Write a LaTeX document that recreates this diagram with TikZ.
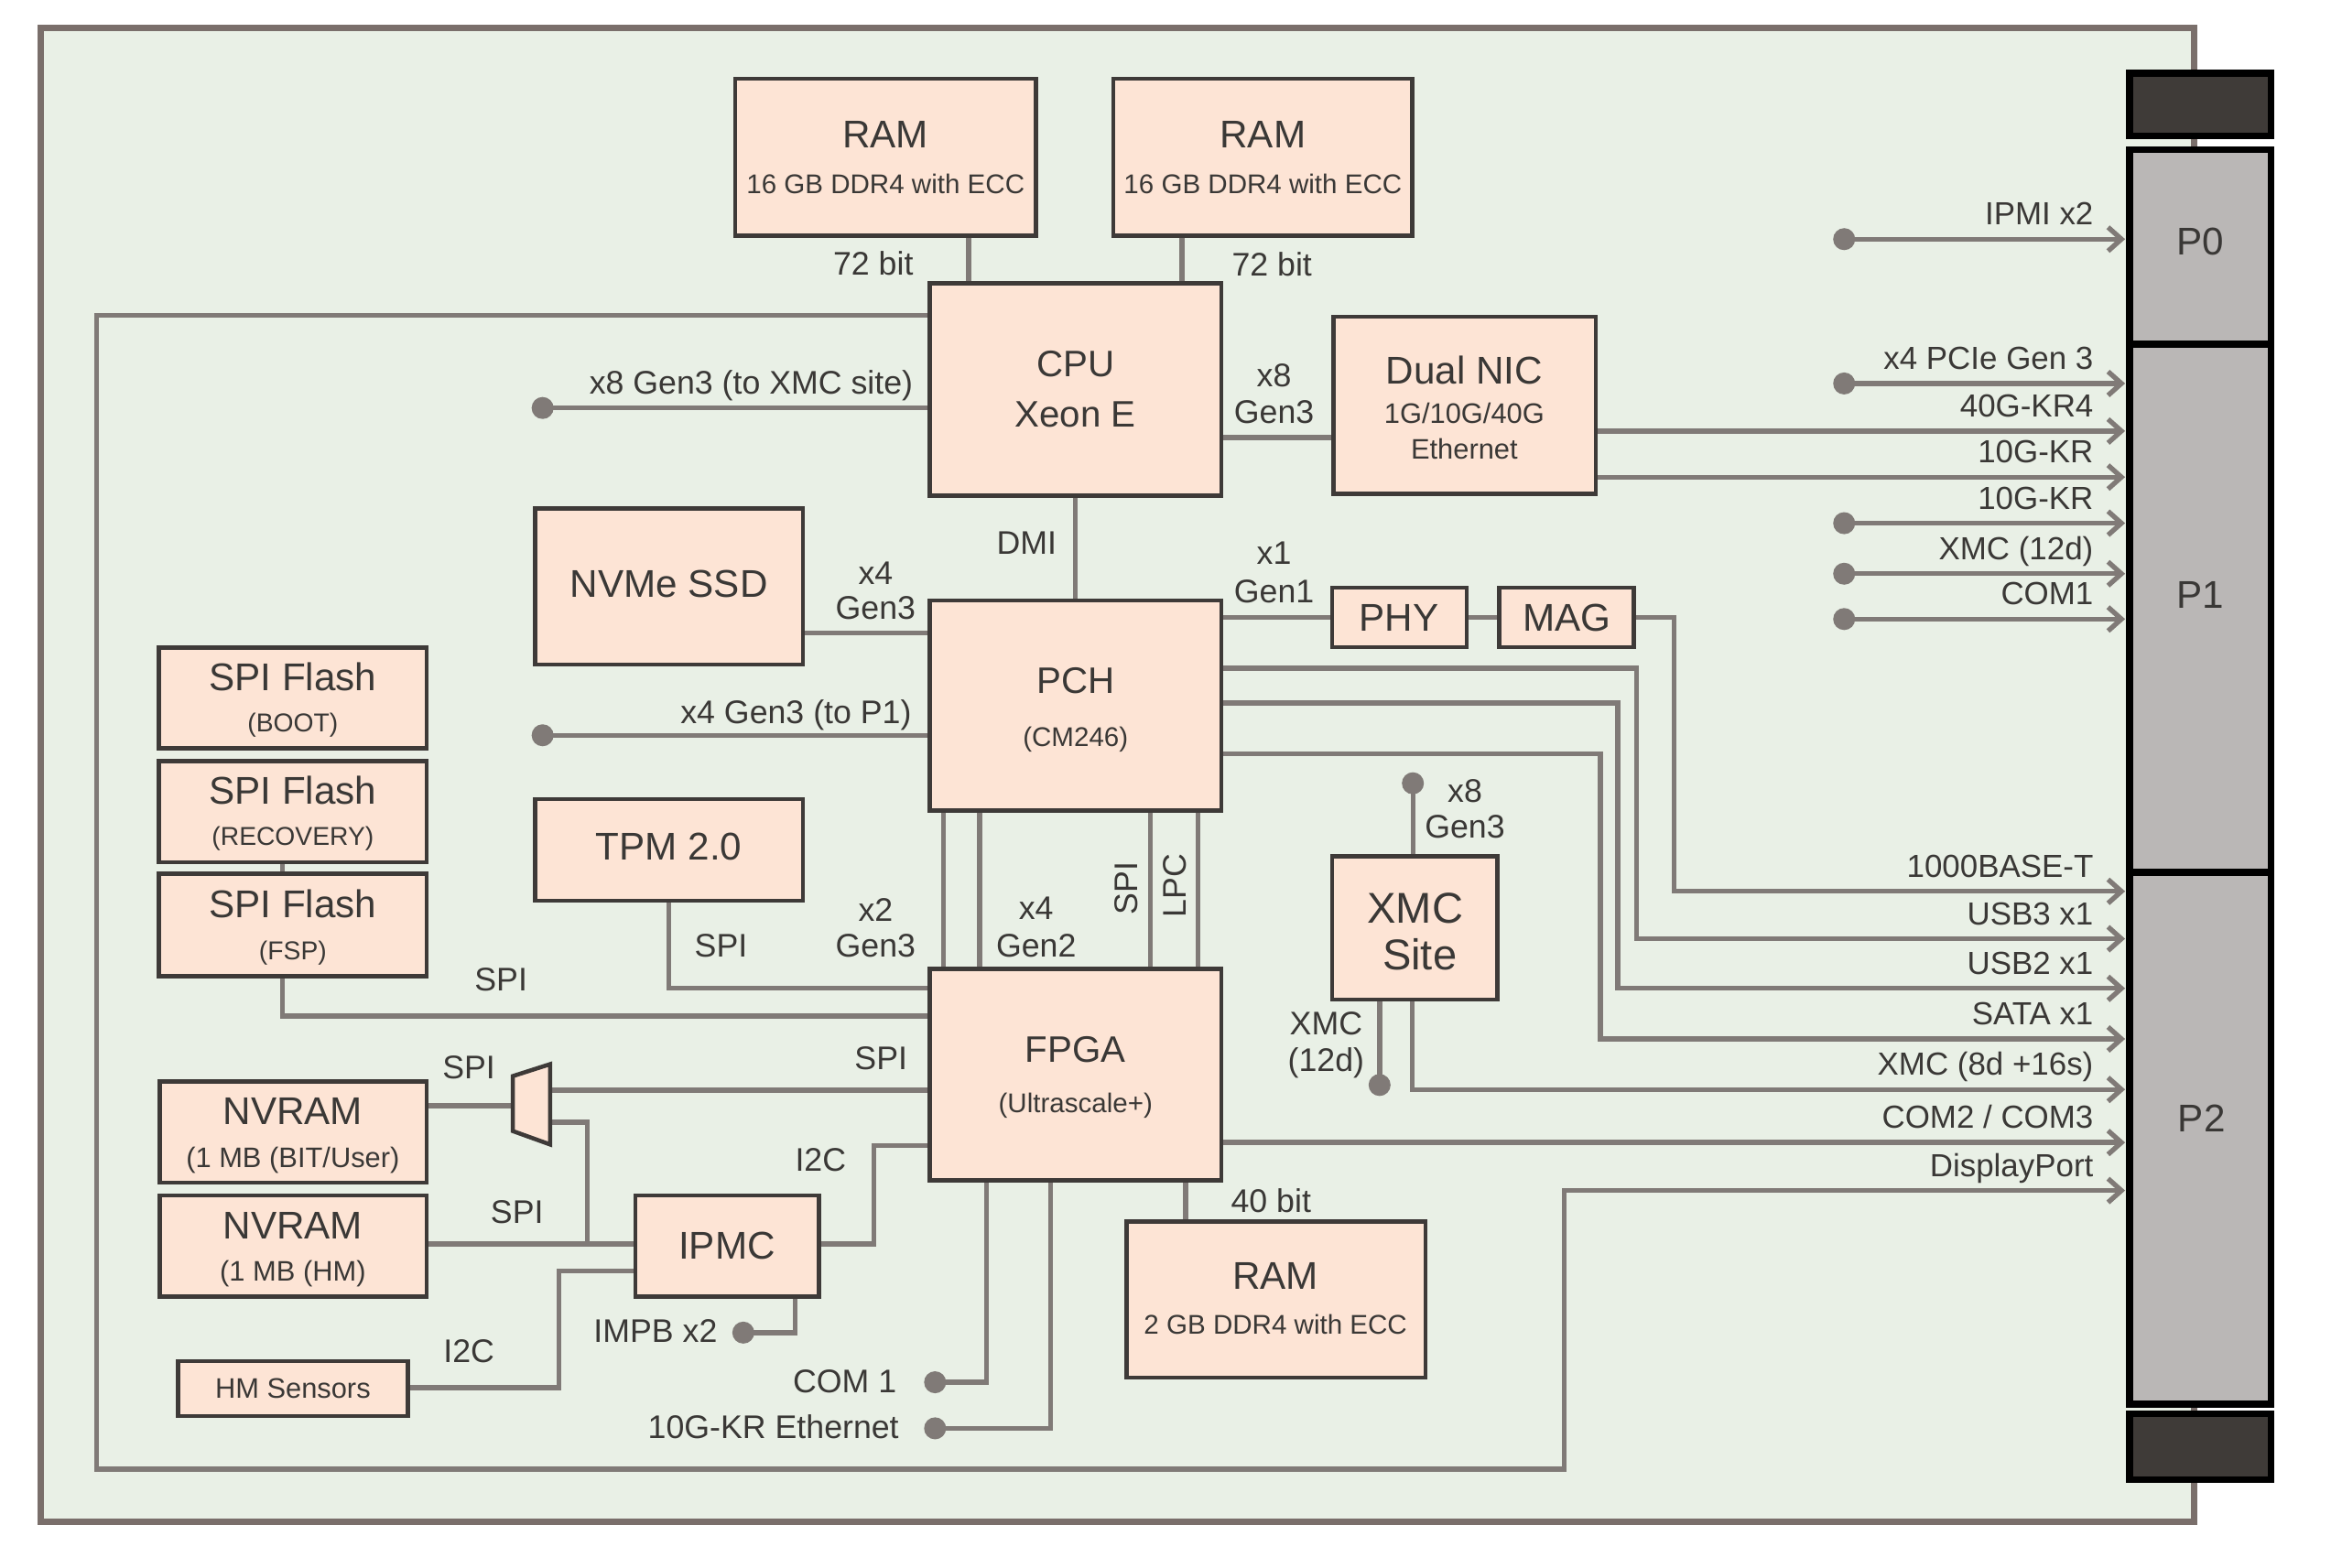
\documentclass[tikz,border=0pt]{standalone}
\usepackage{fontspec}
\setmainfont{Liberation Sans}
\usetikzlibrary{arrows.meta,calc}
\definecolor{boardbg}{HTML}{E9F0E6}
\definecolor{boardln}{HTML}{7A6F6B}
\definecolor{boxfill}{HTML}{FDE4D5}
\definecolor{boxdraw}{HTML}{3E3A38}
\definecolor{linec}{HTML}{807A77}
\definecolor{txt}{HTML}{3A3836}
\definecolor{pfill}{HTML}{BAB7B6}
\definecolor{dfill}{HTML}{3F3B38}
\pgfdeclarelayer{board}
\pgfdeclarelayer{wires}
\pgfsetlayers{board,wires,main}
\newcommand\mybox[6][blk]{%
  \pgfmathsetmacro\myw{(#5-#3)*0.5}%
  \pgfmathsetmacro\myh{(#6-#4)*0.5}%
  \node[#1,minimum width=\myw pt,minimum height=\myh pt] (#2) at ({(#3+#5)/2},{(#4+#6)/2}) {};}
\begin{document}
\begin{tikzpicture}[x=0.5pt,y=-0.5pt,
  blk/.style={rectangle,draw=boxdraw,fill=boxfill,line width=1.4pt,inner sep=0pt,outer sep=0pt},
  pbox/.style={rectangle,draw=black,fill=pfill,line width=2.25pt,inner sep=0pt,outer sep=0pt},
  dbox/.style={rectangle,draw=black,fill=dfill,line width=2.25pt,inner sep=0pt,outer sep=0pt},
  dot/.style={circle,fill=linec,inner sep=0pt,minimum size=7.4pt},
  conn/.style={draw=linec,line width=1.65pt,line join=miter},
  arr/.style={conn,-{Straight Barb[length=4.5pt,width=8pt]},shorten >=1.5pt},
  tx/.style={text=txt,inner sep=0pt,anchor=base},
  ttl/.style={tx,font=\fontsize{13pt}{15pt}\selectfont},
  ttb/.style={tx,font=\fontsize{12.4pt}{15pt}\selectfont},
  ttx/.style={tx,font=\fontsize{14.5pt}{17pt}\selectfont},
  sub/.style={tx,font=\fontsize{9.1pt}{11pt}\selectfont},
  subn/.style={tx,font=\fontsize{9.5pt}{11pt}\selectfont},
  subc/.style={tx,font=\fontsize{8.7pt}{11pt}\selectfont},
  lbl/.style={tx,font=\fontsize{11pt}{13pt}\selectfont},
  lble/.style={lbl,anchor=base east},
  rl/.style={tx,anchor=base east,font=\fontsize{10.75pt}{13pt}\selectfont},
  muxs/.style={draw=boxdraw,fill=boxfill,line width=1.4pt,line join=miter}]
\useasboundingbox (0,0) rectangle (1568,1054.4);
\begin{pgfonlayer}{board}
\fill[white] (0,0) rectangle (1568,1054.4);
\draw[fill=boardbg,draw=boardln,line width=2.15pt] (27.6,19) rectangle (1476,1024);
\end{pgfonlayer}
% boxes
\mybox{ram1}{494.4}{53}{697}{158.7}
\mybox{ram2}{749}{53}{950}{158.5}
\mybox{cpu}{625.4}{190.7}{821.5}{333.5}
\mybox{nic}{897}{213}{1073.5}{332.4}
\mybox{nvme}{360}{342}{540}{447}
\mybox{pch}{625.4}{404}{821.5}{545.5}
\mybox{phy}{896}{395.5}{986.5}{435.5}
\mybox{mag}{1008.6}{395.5}{1099}{435.5}
\mybox{boot}{107}{435.7}{287}{503.6}
\mybox{recov}{107}{512}{287}{580}
\mybox{fsp}{107}{588}{287}{656.7}
\mybox{tpm}{360}{537.7}{540}{606}
\mybox{xmc}{896}{576}{1007.4}{672.4}
\mybox{fpga}{625.4}{652}{821.5}{794}
\mybox{nvram1}{107.4}{727.7}{287}{795.8}
\mybox{nvram2}{107.4}{804.3}{287}{872.5}
\mybox{ipmc}{427.4}{804.3}{551}{872.5}
\mybox{hms}{119.7}{915.8}{274.3}{952.8}
\mybox{ram3}{757.7}{821.7}{959}{927}
\mybox[pbox]{p0}{1432.5}{100.5}{1527.8}{231.6}
\mybox[pbox]{p1}{1432.5}{231.6}{1527.8}{587}
\mybox[pbox]{p2}{1432.5}{587}{1527.8}{944.7}
\mybox[dbox]{k1}{1432.5}{49.3}{1527.8}{91.5}
\mybox[dbox]{k2}{1432.5}{951.3}{1527.8}{995.7}
% mux
\draw[muxs] (345,724) -- (370,716) -- (370,770) -- (345,761) -- cycle;
\coordinate (muxl) at (345,744);
\coordinate (muxr1) at (370,733.5);
\coordinate (muxr2) at (370,755);
% dots
\node[dot] (dA) at (365,274.5) {};
\node[dot] (dB) at (365,494.7) {};
\node[dot] (dC) at (950.4,527) {};
\node[dot] (dD) at (928,730) {};
\node[dot] (dE) at (500,896.6) {};
\node[dot] (dF) at (629,930) {};
\node[dot] (dG) at (629,961) {};
\node[dot] (r1) at (1240.5,160.9) {};
\node[dot] (r2) at (1240.5,258) {};
\node[dot] (r3) at (1240.5,352) {};
\node[dot] (r4) at (1240.5,386) {};
\node[dot] (r5) at (1240.5,416.5) {};
% wires
\begin{pgfonlayer}{wires}
\draw[conn] (ram1.south -| 651.5,0) -- (cpu.north -| 651.5,0);
\draw[conn] (ram2.south -| 795,0) -- (cpu.north -| 795,0);
\draw[arr] (cpu.west |- 0,212) -- (64.9,212) -- (64.9,988.4) -- (1052,988.4) -- (1052,801) -- (p2.west |- 0,801);
\draw[conn] (dA.center) -- (cpu.west |- dA.center);
\draw[conn] (cpu.east |- 0,294.4) -- (nic.west |- 0,294.4);
\draw[arr] (nic.east |- 0,290) -- (p1.west |- 0,290);
\draw[arr] (nic.east |- 0,321) -- (p1.west |- 0,321);
\draw[arr] (r1.center) -- (p0.west |- r1.center);
\draw[arr] (r2.center) -- (p1.west |- r2.center);
\draw[arr] (r3.center) -- (p1.west |- r3.center);
\draw[arr] (r4.center) -- (p1.west |- r4.center);
\draw[arr] (r5.center) -- (p1.west |- r5.center);
\draw[conn] (cpu.south) -- (pch.north);
\draw[conn] (nvme.east |- 0,426) -- (pch.west |- 0,426);
\draw[conn] (dB.center) -- (pch.west |- dB.center);
\draw[conn] (pch.east |- 0,415.5) -- (phy.west |- 0,415.5);
\draw[conn] (phy.east |- 0,415.5) -- (mag.west |- 0,415.5);
\draw[arr] (mag.east |- 0,415.5) -- (1126,415.5) -- (1126,599.7) -- (p2.west |- 0,599.7);
\draw[arr] (pch.east |- 0,449.5) -- (1100.7,449.5) -- (1100.7,631.6) -- (p2.west |- 0,631.6);
\draw[arr] (pch.east |- 0,473) -- (1088.3,473) -- (1088.3,665) -- (p2.west |- 0,665);
\draw[arr] (pch.east |- 0,507) -- (1076.5,507) -- (1076.5,699) -- (p2.west |- 0,699);
\draw[conn] (dC.center) -- (xmc.north -| dC.center);
\draw[conn] (xmc.south -| dD.center) -- (dD.center);
\draw[arr] (xmc.south -| 950,0) -- (950,733) -- (p2.west |- 0,733);
\draw[arr] (fpga.east |- 0,768.7) -- (p2.west |- 0,768.7);
\foreach \xx in {634.5,659,774,805.7} \draw[conn] (pch.south -| \xx,0) -- (fpga.north -| \xx,0);
\draw[conn] (tpm.south -| 450,0) -- (450,665) -- (fpga.west |- 0,665);
\draw[conn] (recov.south -| 190,0) -- (190,683.7) -- (fpga.west |- 0,683.7);
\draw[conn] (nvram1.east |- 0,744) -- (muxl);
\draw[conn] (muxr1) -- (fpga.west |- muxr1);
\draw[conn] (muxr2) -- (395,755) -- (395,837);
\draw[conn] (nvram2.east |- 0,837) -- (ipmc.west |- 0,837);
\draw[conn] (ipmc.east |- 0,837) -- (587.7,837) -- (587.7,770.6) -- (fpga.west |- 0,770.6);
\draw[conn] (ipmc.south -| 535,0) -- (535,896.6) -- (dE.center);
\draw[conn] (hms.east |- 0,933.6) -- (376,933.6) -- (376,855) -- (ipmc.west |- 0,855);
\draw[conn] (fpga.south -| 663.5,0) -- (663.5,930) -- (dF.center);
\draw[conn] (fpga.south -| 706.6,0) -- (706.6,961) -- (dG.center);
\draw[conn] (fpga.south -| 797.5,0) -- (ram3.north -| 797.5,0);
\end{pgfonlayer}
% box texts
\node[ttl] (t1) at (595.7,99.3) {RAM};
\node[sub] (t2) at (595.7,130.4) {16 GB DDR4 with ECC};
\node[ttl] (t3) at (849.5,99.3) {RAM};
\node[sub] (t4) at (849.5,130.4) {16 GB DDR4 with ECC};
\node[ttb] (t5) at (723.5,253.4) {CPU};
\node[ttb] (t6) at (723.5,287.4) {Xeon E};
\node[ttl] (t7) at (985,258.3) {Dual NIC};
\node[subn] (t8) at (985,284.8) {1G/10G/40G};
\node[subn] (t9) at (985,308.8) {Ethernet};
\node[ttl] (t10) at (450,402.1) {NVMe SSD};
\node[ttl] (t11) at (941,424.8) {PHY};
\node[ttl] (t12) at (1054,424.8) {MAG};
\node[ttb] (t13) at (723.5,466.7) {PCH};
\node[sub] (t14) at (723.5,502) {(CM246)};
\node[ttl] (t15) at (197,464.7) {SPI Flash};
\node[subc] (t16) at (197,492.6) {(BOOT)};
\node[ttl] (t17) at (197,541.1) {SPI Flash};
\node[subc] (t18) at (197,569) {(RECOVERY)};
\node[ttl] (t19) at (197,617.3) {SPI Flash};
\node[subc] (t20) at (197,645.6) {(FSP)};
\node[ttl] (t21) at (450,578.8) {TPM 2.0};
\node[ttx] (t22) at (952,621.4) {XMC};
\node[ttx] (t23) at (955,652.4) {Site};
\node[ttb] (t24) at (723.5,715) {FPGA};
\node[sub] (t25) at (723.5,748.6) {(Ultrascale+)};
\node[ttl] (t26) at (197,756.8) {NVRAM};
\node[subn] (t27) at (197,785.6) {(1 MB (BIT/User)};
\node[ttl] (t28) at (197,833.8) {NVRAM};
\node[subn] (t29) at (197,861.6) {(1 MB (HM)};
\node[ttl] (t30) at (489,847.3) {IPMC};
\node[tx,font=\fontsize{9.5pt}{11pt}\selectfont] (t31) at (197,940.8) {HM Sensors};
\node[ttl] (t32) at (858,867.3) {RAM};
\node[sub] (t33) at (858,897.6) {2 GB DDR4 with ECC};
\node[ttl] (t34) at (1480,171.3) {P0};
\node[ttl] (t35) at (1480,409.3) {P1};
\node[ttl] (t36) at (1481,761.3) {P2};
% labels
\node[lbl] (l1) at (587.4,184.9) {72 bit};
\node[lbl] (l2) at (855.6,185.4) {72 bit};
\node[lble] (l3) at (614.5,264.9) {x8 Gen3 (to XMC site)};
\node[lbl] (l4) at (857,260.5) {x8};
\node[lbl] (l5) at (857,284.9) {Gen3};
\node[lbl] (l6) at (690.6,372.6) {DMI};
\node[lbl] (l7) at (589,393.5) {x4};
\node[lbl] (l8) at (589,416.9) {Gen3};
\node[lbl] (l9) at (857,379.9) {x1};
\node[lbl] (l10) at (857,405.6) {Gen1};
\node[lble] (l11) at (613.5,486.7) {x4 Gen3 (to P1)};
\node[lbl,anchor=center,rotate=90] (l12) at (757.6,597.8) {SPI};
\node[lbl,anchor=center,rotate=90] (l13) at (790,596) {LPC};
\node[lbl] (l14) at (589,619.9) {x2};
\node[lbl] (l15) at (589,643.9) {Gen3};
\node[lbl] (l16) at (697,618.9) {x4};
\node[lbl] (l17) at (697,643.9) {Gen2};
\node[lbl] (l18) at (485,643.9) {SPI};
\node[lbl] (l19) at (337,666.9) {SPI};
\node[lbl] (l20) at (985.4,539.9) {x8};
\node[lbl] (l21) at (985.4,563.9) {Gen3};
\node[lbl] (l22) at (892,696.4) {XMC};
\node[lbl] (l23) at (892,720.9) {(12d)};
\node[lbl] (l24) at (315.4,725.9) {SPI};
\node[lbl] (l25) at (592.6,719.9) {SPI};
\node[lbl] (l26) at (552,787.9) {I2C};
\node[lbl] (l27) at (347.8,822.9) {SPI};
\node[lbl] (l28) at (440.9,902.9) {IMPB x2};
\node[lbl] (l29) at (315.4,916.9) {I2C};
\node[lble] (l30) at (603.5,936.9) {COM 1};
\node[lble] (l31) at (605,967.9) {10G-KR Ethernet};
\node[lbl] (l32) at (855,815.9) {40 bit};
% right labels
\node[rl] (q1) at (1408.5,151.4) {IPMI x2};
\node[rl] (q2) at (1408.5,248.5) {x4 PCIe Gen 3};
\node[rl] (q3) at (1408.5,280.5) {40G-KR4};
\node[rl] (q4) at (1408.5,311.5) {10G-KR};
\node[rl] (q5) at (1408.5,342.5) {10G-KR};
\node[rl] (q6) at (1408.5,376.5) {XMC (12d)};
\node[rl] (q7) at (1408.5,407) {COM1};
\node[rl] (q8) at (1408.5,590.2) {1000BASE-T};
\node[rl] (q9) at (1408.5,622.1) {USB3 x1};
\node[rl] (q10) at (1408.5,655.5) {USB2 x1};
\node[rl] (q11) at (1408.5,689.5) {SATA x1};
\node[rl] (q12) at (1408.5,723.5) {XMC (8d +16s)};
\node[rl] (q13) at (1408.5,759.2) {COM2 / COM3};
\node[rl] (q14) at (1408.5,791.5) {DisplayPort};
\end{tikzpicture}
\end{document}
